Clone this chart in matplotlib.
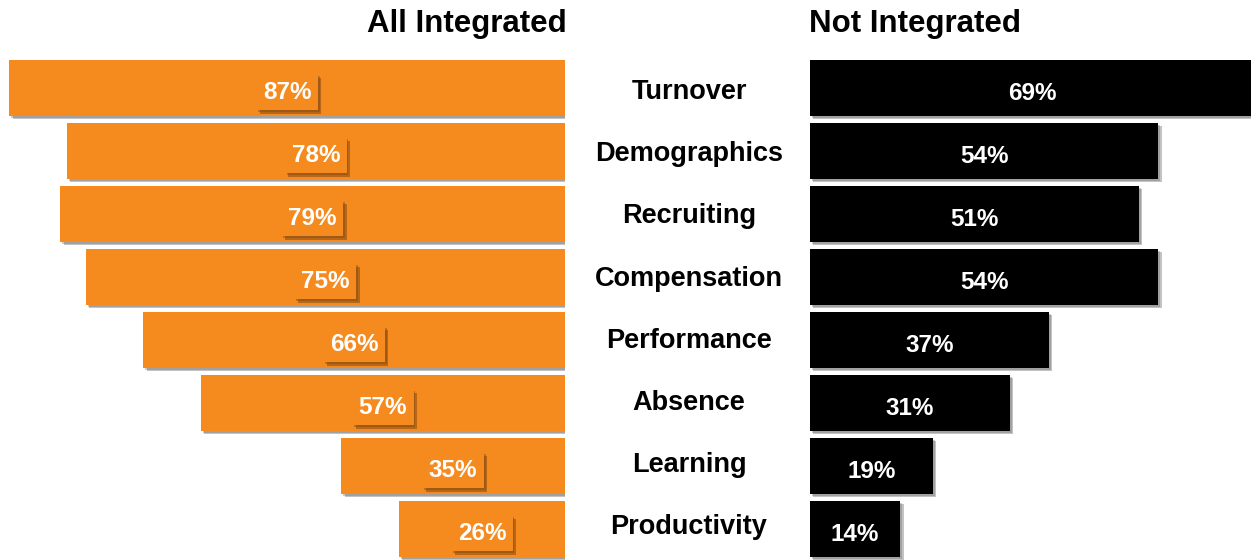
import matplotlib
matplotlib.use("Agg")
import matplotlib.pyplot as plt
import matplotlib.patheffects as pe

categories = ["Turnover", "Demographics", "Recruiting", "Compensation",
              "Performance", "Absence", "Learning", "Productivity"]
all_integrated = [87, 78, 79, 75, 66, 57, 35, 26]
not_integrated = [69, 54, 51, 54, 37, 31, 19, 14]

ORANGE = "#F58A1F"
W, H = 1251, 560
plt.rcParams['font.family'] = ['Liberation Sans', 'DejaVu Sans']
fig = plt.figure(figsize=(W / 100, H / 100), dpi=100)

pitch = 63.0
first = 88.0
ytop = -first / pitch
ybot = (H - first) / pitch
barh = 56 / pitch

def shadow():
    return [pe.SimplePatchShadow(offset=(2.5, -2.5), shadow_rgbFace="#555555", alpha=0.35),
            pe.SimplePatchShadow(offset=(1.5, -1.5), shadow_rgbFace="#555555", alpha=0.3),
            pe.Normal()]

# left axes
lx1 = 565
axL = fig.add_axes([0, 0, lx1 / W, 1])
axL.set_xlim(lx1 / 6.39, 0)
axL.set_ylim(ybot, ytop)
axL.axis("off")
ys = list(range(len(categories)))
bars = axL.barh(ys, all_integrated, height=barh, color=ORANGE)
for b in bars:
    b.set_path_effects(shadow())
for y, v in zip(ys, all_integrated):
    t = axL.text(v / 2, y + 0.07, f"{v}%", ha="center", va="center", color="white",
                 fontsize=17.5, fontweight="bold",
                 bbox=dict(boxstyle="square,pad=0.27", fc=ORANGE, ec="none"))
    t.get_bbox_patch().set_path_effects(
        [pe.SimplePatchShadow(offset=(2.5, -2.5), shadow_rgbFace="#7a4510", alpha=0.5),
         pe.SimplePatchShadow(offset=(1.2, -1.2), shadow_rgbFace="#7a4510", alpha=0.4),
         pe.Normal()])

# right axes
rx0 = 810
axR = fig.add_axes([rx0 / W, 0, (W - rx0) / W, 1])
axR.set_xlim(0, (W - rx0) / 6.45)
axR.set_ylim(ybot, ytop)
axR.axis("off")
bars = axR.barh(ys, not_integrated, height=barh, color="black")
for b in bars:
    b.set_path_effects(shadow())
for y, v in zip(ys, not_integrated):
    axR.text(v / 2, y + 0.08, f"{v}%", ha="center", va="center", color="white",
             fontsize=17.5, fontweight="bold")

# category labels
for i, c in enumerate(categories):
    fig.text(689 / W, 1 - (first + 4 + 62.2 * i) / H, c, ha="center", va="center",
             fontsize=19.5, fontweight="bold", color="black")

fig.text(467 / W, 1 - 24 / H, "All Integrated", ha="center", va="center",
         fontsize=22.5, fontweight="bold")
fig.text(915 / W, 1 - 24 / H, "Not Integrated", ha="center", va="center",
         fontsize=22.5, fontweight="bold")

fig.savefig("out.png", dpi=100)
